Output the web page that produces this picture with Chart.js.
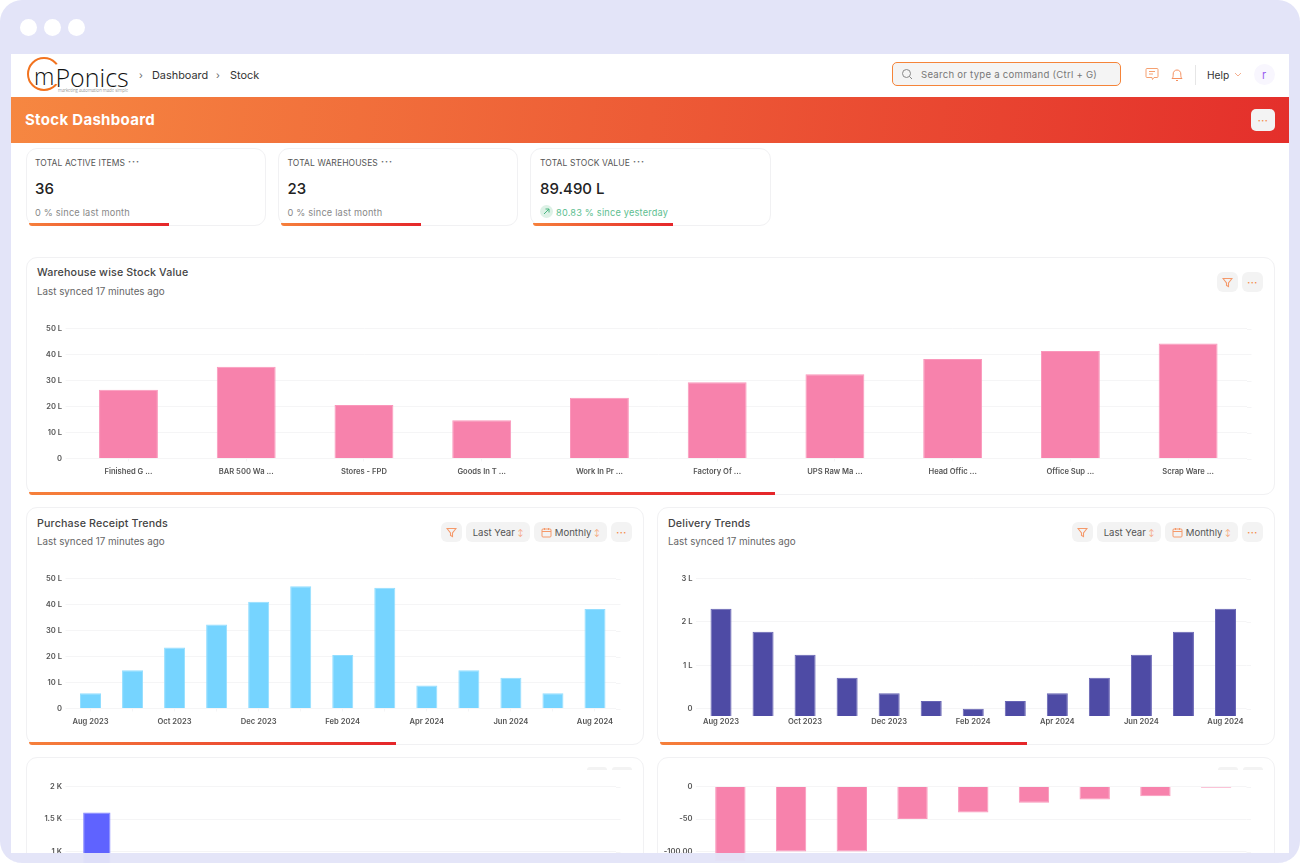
<!DOCTYPE html>
<html><head><meta charset="utf-8">
<script src="https://cdn.jsdelivr.net/npm/chart.js@4/dist/chart.umd.min.js"></script>
<style>
*{box-sizing:border-box}
html,body{margin:0;padding:0;background:#fff;width:1300px;height:863px;overflow:hidden;font-family:Inter,"Noto Sans",sans-serif;color:#2b2b2b}
.abs,.card,.btn,.txt,canvas{position:absolute}
#frame{position:absolute;left:0;top:0;width:1300px;height:863px;background:#E3E4F8;border-radius:22px;overflow:hidden}
.dot{position:absolute;top:19px;width:17px;height:17px;border-radius:50%;background:#fff}
#panel{position:absolute;left:11px;top:54px;width:1278px;height:809px;background:#fff;overflow:hidden}
#mask{position:absolute;left:0;top:853px;width:1300px;height:10px;background:rgba(227,228,248,.96);z-index:9}
.inner{position:absolute;left:-11px;top:-54px;width:1300px;height:863px}
.txt{white-space:nowrap;line-height:1}
.card{background:#fff;border:1.5px solid #f1f1f3;border-radius:11px;overflow:hidden}
.bar{position:absolute;height:3px;background:linear-gradient(90deg,#F6803B,#E5262A);border-radius:0 0 0 6px}
.btn{background:#f3f3f3;border-radius:6px;height:20px;font-size:9.6px;color:#555;display:flex;align-items:center;justify-content:center;white-space:nowrap}
.o{color:#f5894a;letter-spacing:.5px;font-weight:700;font-size:9px}
.h{font-size:10.7px;color:#444;font-weight:500;letter-spacing:.15px}
.s{font-size:9.8px;color:#666}
.kl{font-size:8.5px;color:#555;letter-spacing:.1px}
.kv{font-size:15px;color:#222;font-weight:500}
.kd{font-size:9.2px;color:#888;letter-spacing:.2px}
.dd{font-size:9px;font-weight:700;color:#666;letter-spacing:1px}
svg{display:block}
</style></head><body>
<div id="frame">
<div class="dot" style="left:20px"></div><div class="dot" style="left:44px"></div><div class="dot" style="left:68px"></div>
<div id="panel"><div class="inner" id="inner">

<div class="abs" style="left:27px;top:57px;width:34px;height:34px;border:2.5px solid #F2731F;border-radius:50%;clip-path:polygon(0 0,100% 0,100% 18%,60% 30%,60% 72%,100% 84%,100% 100%,0 100%)"></div>
<div class="txt" style="left:34px;top:60px;font:300 23px 'Open Sans',sans-serif;color:#111">m</div>
<div class="txt" style="left:55.500px;top:60px;font:300 25px 'Open Sans',sans-serif;color:#111">Ponics</div>
<div class="txt" style="left:58px;top:86.500px;font:300 4.400px 'Open Sans',sans-serif;color:#555">marketing automation made simple</div>
<div class="txt" style="left:139px;top:70px;font-size:10px;color:#666">&#8250;</div>
<div class="txt" style="left:152px;top:70px;font-size:10.9px;color:#333">Dashboard</div>
<div class="txt" style="left:216px;top:70px;font-size:10px;color:#666">&#8250;</div>
<div class="txt" style="left:230px;top:70px;font-size:10.9px;color:#333">Stock</div>

<div class="abs" style="left:892px;top:62px;width:229px;height:24px;background:#f4f4f4;border:1.5px solid #F58439;border-radius:5px"></div>
<svg class="abs" style="left:901px;top:68px" width="12" height="12" viewBox="0 0 12 12" fill="none" stroke="#888" stroke-width="1"><circle cx="5.5" cy="5.5" r="4"/><path d="M8.5 8.5 11 11"/></svg>
<div class="txt" style="left:921px;top:70px;font-size:9.6px;color:#777;letter-spacing:.25px">Search or type a command (Ctrl + G)</div>
<svg class="abs" style="left:1145px;top:67px" width="14" height="14" viewBox="0 0 14 14" fill="none" stroke="#F5A070" stroke-width="1"><path d="M2 1.5h10a1 1 0 0 1 1 1v7a1 1 0 0 1-1 1H9l-1.5 2L7 10.5H2a1 1 0 0 1-1-1v-7a1 1 0 0 1 1-1z"/><path d="M4 4.5h6M4 7h4"/></svg>
<svg class="abs" style="left:1171px;top:68px" width="12" height="14" viewBox="0 0 12 14" fill="none" stroke="#F59060" stroke-width="1"><path d="M1 10.5c1.2-1 1.2-2.5 1.2-4.5A3.8 3.8 0 0 1 6 2a3.8 3.8 0 0 1 3.8 4c0 2 0 3.500 1.200 4.500z"/><path d="M5 12.500h2"/></svg>
<div class="abs" style="left:1195px;top:65px;width:1px;height:20px;background:#e6e6e6"></div>
<div class="txt" style="left:1207px;top:70px;font-size:10.2px;color:#333">Help</div>
<svg class="abs" style="left:1234px;top:72px" width="8" height="6" viewBox="0 0 8 6" fill="none" stroke="#F5B090" stroke-width="1"><path d="M1 1l3 3 3-3"/></svg>
<div class="abs" style="left:1254px;top:64px;width:21px;height:21px;background:#f8f6fe;border-radius:50%"></div>
<div class="txt" style="left:1262px;top:70px;font-size:11px;color:#9a5cf0">r</div>

<div class="abs" style="left:11px;top:97px;width:1278px;height:46px;background:linear-gradient(97deg,#F68741 0%,#E42F2B 100%)"></div>
<div class="txt" style="left:25px;top:112px;font-size:15px;font-weight:700;color:#fff;letter-spacing:.3px">Stock Dashboard</div>
<div class="btn o" style="left:1251px;top:109px;width:24px;height:22px;border-radius:5px">···</div>

<div class="card" style="left:25.500px;top:148px;width:240.500px;height:78px"></div>
<div class="txt kl" style="left:35px;top:159px">TOTAL ACTIVE ITEMS</div><div class="txt dd" style="left:128px;top:157px">···</div>
<div class="txt kv" style="left:35px;top:181px">36</div>
<div class="txt kd" style="left:35px;top:207.500px">0 % since last month</div>
<div class="bar" style="left:29px;top:223px;width:140px"></div>

<div class="card" style="left:277.500px;top:148px;width:240.500px;height:78px"></div>
<div class="txt kl" style="left:287.500px;top:159px">TOTAL WAREHOUSES</div><div class="txt dd" style="left:381px;top:157px">···</div>
<div class="txt kv" style="left:287.500px;top:181px">23</div>
<div class="txt kd" style="left:287.500px;top:207.500px">0 % since last month</div>
<div class="bar" style="left:281px;top:223px;width:140px"></div>

<div class="card" style="left:529.500px;top:148px;width:241.500px;height:78px"></div>
<div class="txt kl" style="left:540px;top:159px">TOTAL STOCK VALUE</div><div class="txt dd" style="left:633px;top:157px">···</div>
<div class="txt kv" style="left:540px;top:181px">89.490 L</div>
<div class="abs" style="left:540px;top:205px;width:13px;height:13px;border-radius:50%;background:#DDF1E6"></div>
<svg class="abs" style="left:543px;top:208px" width="7" height="7" viewBox="0 0 7 7" fill="none" stroke="#48B57F" stroke-width="1"><path d="M1 6 6 1M2.500 1H6v3.500"/></svg>
<div class="txt kd" style="left:556px;top:207.500px;color:#5DBE90">80.83 % since yesterday</div>
<div class="bar" style="left:533px;top:223px;width:140px"></div>

<div class="card" style="left:25.500px;top:257px;width:1249.500px;height:238px"></div>
<div class="txt h" style="left:37px;top:267.500px">Warehouse wise Stock Value</div>
<div class="txt s" style="left:37px;top:286.500px">Last synced 17 minutes ago</div>
<div class="btn" style="left:1217px;top:272px;width:21px"><svg width="11" height="11" viewBox="0 0 11 11" fill="none" stroke="#F5996A" stroke-width="1.100"><path d="M1 1.500h9L6.500 6v3.500l-2-1V6z"/></svg></div>
<div class="btn o" style="left:1242px;top:272px;width:21px">···</div>
<div class="bar" style="left:29px;top:492px;width:746px"></div>

<div class="card" style="left:25.500px;top:507px;width:618.500px;height:238px"></div>
<div class="txt h" style="left:37px;top:518.500px">Purchase Receipt Trends</div>
<div class="txt s" style="left:37px;top:536.500px">Last synced 17 minutes ago</div>
<div class="btn" style="left:441px;top:522px;width:21px"><svg width="11" height="11" viewBox="0 0 11 11" fill="none" stroke="#F5996A" stroke-width="1.100"><path d="M1 1.500h9L6.500 6v3.500l-2-1V6z"/></svg></div>
<div class="btn" style="left:466px;top:522px;width:64px">Last Year&nbsp;<span style="font-size:7px;color:#F5996A">&#8597;</span></div>
<div class="btn" style="left:534px;top:522px;width:73px"><svg width="11" height="11" viewBox="0 0 11 11" fill="none" stroke="#F5996A"><rect x="1" y="2" width="9" height="8" rx="1"/><path d="M1 4.500h9M3.500 1v2M7.500 1v2"/></svg>&nbsp;Monthly&nbsp;<span style="font-size:7px;color:#F5996A">&#8597;</span></div>
<div class="btn o" style="left:611px;top:522px;width:21px">···</div>
<div class="bar" style="left:29px;top:742px;width:367px"></div>

<div class="card" style="left:656.500px;top:507px;width:618.500px;height:238px"></div>
<div class="txt h" style="left:668px;top:518.500px">Delivery Trends</div>
<div class="txt s" style="left:668px;top:536.500px">Last synced 17 minutes ago</div>
<div class="btn" style="left:1072px;top:522px;width:21px"><svg width="11" height="11" viewBox="0 0 11 11" fill="none" stroke="#F5996A" stroke-width="1.100"><path d="M1 1.500h9L6.500 6v3.500l-2-1V6z"/></svg></div>
<div class="btn" style="left:1097px;top:522px;width:64px">Last Year&nbsp;<span style="font-size:7px;color:#F5996A">&#8597;</span></div>
<div class="btn" style="left:1165px;top:522px;width:73px"><svg width="11" height="11" viewBox="0 0 11 11" fill="none" stroke="#F5996A"><rect x="1" y="2" width="9" height="8" rx="1"/><path d="M1 4.500h9M3.500 1v2M7.500 1v2"/></svg>&nbsp;Monthly&nbsp;<span style="font-size:7px;color:#F5996A">&#8597;</span></div>
<div class="btn o" style="left:1242px;top:522px;width:21px">···</div>
<div class="bar" style="left:660px;top:742px;width:367px"></div>

<div class="card" style="left:25.500px;top:757px;width:618.500px;height:200px"></div>
<div class="abs" style="left:587px;top:767px;width:20px;height:3px;background:#f3f3f3;border-radius:6px 6px 0 0"></div>
<div class="abs" style="left:612px;top:767px;width:20px;height:3px;background:#f3f3f3;border-radius:6px 6px 0 0"></div>
<div class="card" style="left:656.500px;top:757px;width:618.500px;height:200px"></div>
<div class="abs" style="left:1218px;top:767px;width:20px;height:3px;background:#f3f3f3;border-radius:6px 6px 0 0"></div>
<div class="abs" style="left:1243px;top:767px;width:20px;height:3px;background:#f3f3f3;border-radius:6px 6px 0 0"></div>

<canvas id="c1" style="left:26px;top:315px"></canvas>
<canvas id="c2" style="left:26px;top:565px"></canvas>
<canvas id="c3" style="left:657px;top:565px"></canvas>
<canvas id="c4" style="left:26px;top:773px"></canvas>
<canvas id="c5" style="left:657px;top:773px"></canvas>
</div></div>
<div id="mask"></div>
</div>
<script>
const warehouseLabels = ["Finished G ...","BAR 500 Wa ...","Stores - FPD","Goods In T ...","Work In Pr ...","Factory Of ...","UPS Raw Ma ...","Head Offic ...","Office Sup ...","Scrap Ware ..."];
const warehouseValues = [26.4,35.3,20.6,14.7,23.4,29.3,32.4,38.3,41.3,44.2];
const monthLabels = ["Aug 2023","Sep 2023","Oct 2023","Nov 2023","Dec 2023","Jan 2024","Feb 2024","Mar 2024","Apr 2024","May 2024","Jun 2024","Jul 2024","Aug 2024"];
const purchaseValues = [5.9,14.7,23.5,32.3,41.1,47,20.6,46.4,8.8,14.7,11.8,5.9,38.3];
const deliveryValues = [2.3,1.77,1.24,0.71,0.355,0.178,0,0.178,0.355,0.71,1.24,1.77,2.3];
const deliveryBase = -0.17;
const stockLabels = ["","","","","","","","","",""];
const stockValues = [1600,null,null,null,null,null,null,null,null,null];
const ageLabels = ["","","","","","","","",""];
const ageValues = [-115,-100,-100,-50,-40,-25,-20,-15,-2];
const lakhTicks = [0,10,20,30,40,50];
const deliveryTicks = [0,1,2,3];
const stockTicks = [0,500,1000,1500,2000];
const ageTicks = [0,-50,-100,-150];

Chart.defaults.animation = false;
const gridColor = "#f5f5f6";
const extendGrid = {id:"extendGrid",afterDraw(ch,a,o){
  const s=ch.scales.y,x=ch.chartArea.right,c=ch.ctx;
  c.save();c.strokeStyle=gridColor;c.lineWidth=1;
  s.ticks.forEach((t,i)=>{const y=Math.round(s.getPixelForTick(i))+.5;c.beginPath();c.moveTo(x,y);c.lineTo(x+o.ext,y);c.stroke();});
  c.restore();
}};
function make(id,cfg){
  const el=document.getElementById(id);
  return new Chart(el,{
    type:"bar",
    plugins:[extendGrid],
    data:{labels:cfg.labels,datasets:[{data:cfg.values,backgroundColor:cfg.color,borderColor:cfg.border,borderWidth:1,barPercentage:.5,categoryPercentage:1,base:cfg.base}]},
    options:{
      responsive:false,maintainAspectRatio:false,devicePixelRatio:1,
      layout:{padding:{top:cfg.top,right:cfg.right,left:0,bottom:0}},
      plugins:{legend:{display:false},tooltip:{enabled:false},extendGrid:{ext:4.5}},
      scales:{
        x:{grid:{display:true,offset:false,drawOnChartArea:false,drawTicks:cfg.xTicks!==false,tickLength:3,color:"#f5f5f6"},border:{display:false},
           afterFit(s){s.height=cfg.xh},
           ticks:{autoSkip:false,maxRotation:0,minRotation:0,padding:cfg.xPad,font:{family:"Inter",size:cfg.xSize||7.6,weight:"600"},color:"#555",
             callback(v,i){const l=this.getLabelForValue(v);return (cfg.skip&&i%2)?"":l}}},
        y:{min:cfg.min,max:cfg.max,grid:{color:gridColor,tickLength:4,tickColor:gridColor},border:{display:false},
           afterFit(s){s.width=cfg.yw},
           afterBuildTicks(s){s.ticks=cfg.ticks.map(v=>({value:v}))},
           ticks:{padding:3.5,font:{family:"Inter",size:7.6,weight:"600"},color:"#555",callback:cfg.fmt}}
      }
    }
  });
}
function size(id,w,h){const e=document.getElementById(id);e.width=w;e.height=h;e.style.width=w+"px";e.style.height=h+"px";}
size("c1",1238,170);size("c2",610,170);size("c3",606,170);size("c4",610,170);size("c5",606,200);
const lakh=v=>v===0?"0":v+" L";
const kilo=v=>v===0?"0":(v/1000)+" K";
const pink="#F782AC",pinkB="#FA97BB";
make("c1",{labels:warehouseLabels,values:warehouseValues,color:pink,border:pinkB,top:13.5,right:17,xh:26.5,yw:43.6,min:0,max:50,ticks:lakhTicks,fmt:lakh,xPad:6});
make("c2",{labels:monthLabels,values:purchaseValues,color:"#76D4FF",border:"#93DEFF",top:13.5,right:20,xh:26.5,yw:43.5,min:0,max:50,ticks:lakhTicks,fmt:lakh,xPad:6,skip:true});
make("c3",{labels:monthLabels,values:deliveryValues,base:deliveryBase,color:"#4E4BA5",border:"#6663B4",top:13.5,right:16.5,xh:19,yw:43,min:deliveryBase,max:3,ticks:deliveryTicks,fmt:v=>v===0?"0":v+" L",xPad:1.5,skip:true,xTicks:false});
make("c4",{labels:stockLabels,values:stockValues,color:"#5F63FF",border:"#8386FF",top:13.5,right:20,xh:26.5,yw:43.5,min:0,max:2000,ticks:stockTicks,fmt:kilo,xPad:6});
make("c5",{labels:ageLabels,values:ageValues,color:pink,border:pinkB,top:13.5,right:16.5,xh:89,yw:43,min:-150,max:0,ticks:ageTicks,fmt:v=>v===-100?"-100.00":v===-150?"-150.00":String(v),xPad:5});
</script>
</body></html>
